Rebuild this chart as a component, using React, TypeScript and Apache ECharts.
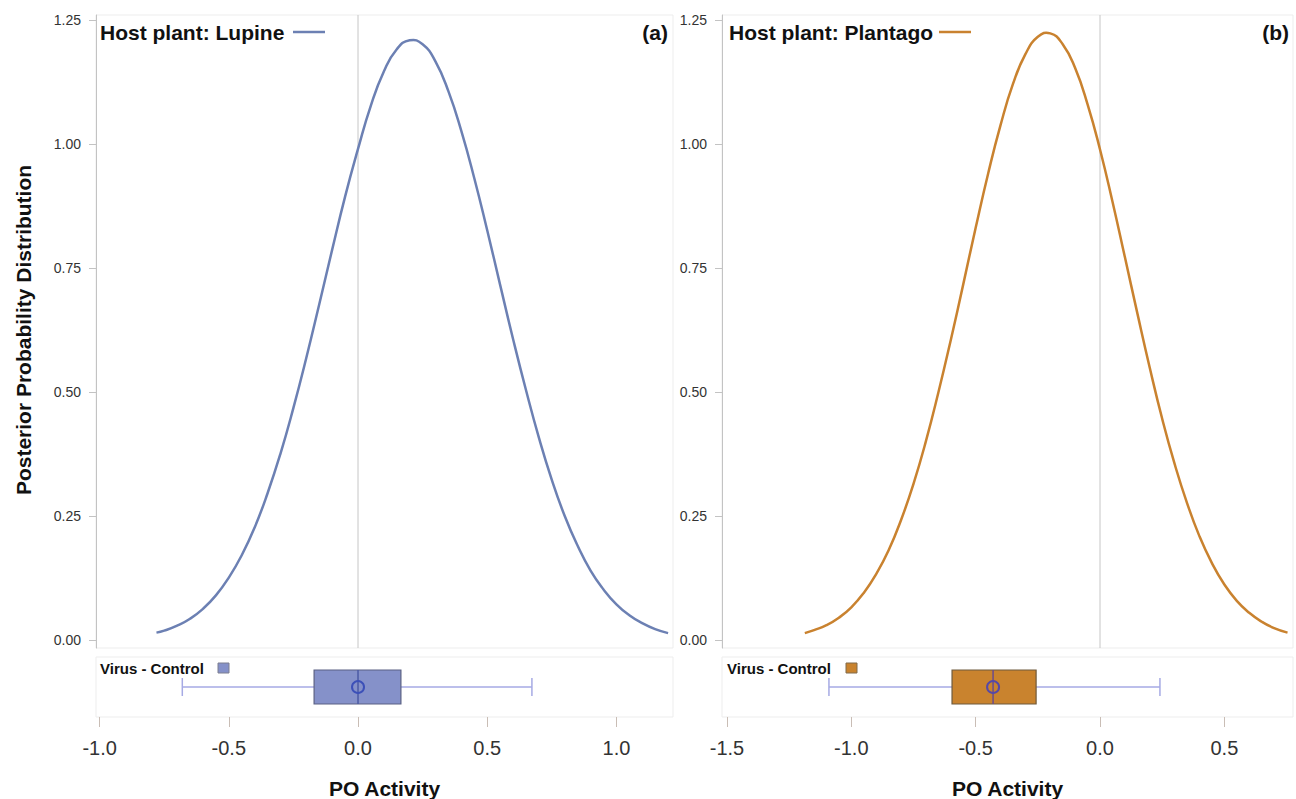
import React, { useEffect, useRef } from "react";
import * as echarts from "echarts";

// ---- data ----
const lupineX = [-0.78, -0.75, -0.7, -0.65, -0.6, -0.55, -0.5, -0.45, -0.4, -0.35, -0.3, -0.25, -0.2, -0.15, -0.1, -0.05, 0, 0.05, 0.1, 0.15, 0.2, 0.25, 0.3, 0.35, 0.4, 0.45, 0.5, 0.55, 0.6, 0.65, 0.7, 0.75, 0.8, 0.85, 0.9, 0.95, 1.0, 1.05, 1.1, 1.15, 1.2];
const lupineY = [0.015, 0.019, 0.029, 0.043, 0.063, 0.09, 0.126, 0.171, 0.227, 0.296, 0.376, 0.468, 0.569, 0.677, 0.787, 0.894, 0.99, 1.078, 1.146, 1.191, 1.209, 1.201, 1.166, 1.106, 1.026, 0.931, 0.826, 0.716, 0.607, 0.504, 0.408, 0.323, 0.25, 0.19, 0.14, 0.102, 0.072, 0.05, 0.034, 0.022, 0.014];

const plantagoX = [-1.187, -1.15, -1.1, -1.05, -1.0, -0.95, -0.9, -0.85, -0.8, -0.75, -0.7, -0.65, -0.6, -0.55, -0.5, -0.45, -0.4, -0.35, -0.3, -0.25, -0.2, -0.15, -0.1, -0.05, 0, 0.05, 0.1, 0.15, 0.2, 0.25, 0.3, 0.35, 0.4, 0.45, 0.5, 0.55, 0.6, 0.65, 0.7, 0.754];
const plantagoY = [0.014, 0.02, 0.03, 0.045, 0.066, 0.095, 0.133, 0.181, 0.242, 0.315, 0.401, 0.499, 0.605, 0.717, 0.831, 0.94, 1.038, 1.121, 1.181, 1.216, 1.223, 1.201, 1.153, 1.08, 0.989, 0.884, 0.772, 0.659, 0.549, 0.446, 0.355, 0.276, 0.209, 0.155, 0.112, 0.079, 0.055, 0.037, 0.024, 0.015];

// box stats: [low whisker, Q1, median, Q3, high whisker, mean]
const lupineBox = [-0.68, -0.17, 0.0, 0.166, 0.673, 0.0];
const plantagoBox = [-1.09, -0.595, -0.43, -0.257, 0.241, -0.43];

const lupineTicks = [-1.0, -0.5, 0.0, 0.5, 1.0];
const plantagoTicks = [-1.5, -1.0, -0.5, 0.0, 0.5];
const yTicks = [0, 0.25, 0.5, 0.75, 1.0, 1.25];
const refLineX = 0;

const lupineLabel = "Host plant: Lupine";
const plantagoLabel = "Host plant: Plantago";
const boxLabel = "Virus - Control";
const yTitle = "Posterior Probability Distribution";
const xTitle = "PO Activity";

const FONT = '"Liberation Sans", Arial, Helvetica, sans-serif';

const LUP = { line: "#6c80b3", fill: "#8591c9", border: "#5b6184", median: "#4b5aa5", mean: "#3c50b8", whisker: "#a6aae4" };
const PLA = { line: "#c9822f", fill: "#c9832e", border: "#6f5a3c", median: "#6b4c8c", mean: "#5548a8", whisker: "#a6aae4" };

function boxRender(colors: any) {
  return (params: any, api: any) => {
    const low = api.value(0), q1 = api.value(1), med = api.value(2), q3 = api.value(3), high = api.value(4), mean = api.value(5);
    const yc = api.coord([0, 0.5])[1];
    const xs = [low, q1, med, q3, high, mean].map((v) => api.coord([v, 0.5])[0]);
    const hb = api.size([0, 0.283])[1];
    const hc = api.size([0, 0.15])[1];
    const ws = { stroke: colors.whisker, lineWidth: 1.5 };
    return {
      type: "group",
      children: [
        { type: "line", shape: { x1: xs[0], y1: yc, x2: xs[1], y2: yc }, style: ws },
        { type: "line", shape: { x1: xs[3], y1: yc, x2: xs[4], y2: yc }, style: ws },
        { type: "line", shape: { x1: xs[0], y1: yc - hc, x2: xs[0], y2: yc + hc }, style: ws },
        { type: "line", shape: { x1: xs[4], y1: yc - hc, x2: xs[4], y2: yc + hc }, style: ws },
        { type: "rect", shape: { x: xs[1], y: yc - hb, width: xs[3] - xs[1], height: 2 * hb }, style: { fill: colors.fill, stroke: colors.border, lineWidth: 1.2 } },
        { type: "line", shape: { x1: xs[2], y1: yc - hb, x2: xs[2], y2: yc + hb }, style: { stroke: colors.median, lineWidth: 1.5 } },
        { type: "circle", shape: { cx: xs[5], cy: yc, r: 6 }, style: { fill: "none", stroke: colors.mean, lineWidth: 2 } },
      ],
    };
  };
}

// smooth density curve drawn through the axis scales (api.coord)
function curveRender(xs: number[], ys: number[], color: string) {
  return (params: any, api: any) => {
    if (params.dataIndex !== 0) return;
    const cs = params.coordSys;
    const x0 = api.coord([refLineX, 0])[0];
    const pts = xs.map((x, i) => api.coord([x, ys[i]]));
    return {
      type: "group",
      children: [
        { type: "line", shape: { x1: x0, y1: cs.y, x2: x0, y2: cs.y + cs.height }, style: { stroke: "#c6c6c6", lineWidth: 1 }, z2: 1 },
        { type: "polyline", shape: { points: pts, smooth: 0.5 }, style: { stroke: color, lineWidth: 2.5, fill: "none" }, z2: 5 },
      ],
    };
  };
}

export default function App() {
  const ref = useRef<HTMLDivElement>(null);
  useEffect(() => {
    if (!ref.current) return;
    const chart = echarts.init(ref.current, undefined, { renderer: "svg" });

    const gridBorder = { show: true, borderColor: "#ededed", borderWidth: 1, backgroundColor: "transparent" };
    const L = { x0: 96, x1: 673, min: -1.014, max: 1.219 };
    const R = { x0: 722, x1: 1293, min: -1.52, max: 0.776 };
    const dTop = 15, dBot = 648, bTop = 657, bBot = 717;

    const yAxisDensity = (gi: number) => ({
      type: "value",
      gridIndex: gi,
      min: -0.016,
      max: 1.26,
      axisLine: { show: true, onZero: false, lineStyle: { color: "#c3c3c3", width: 1 } },
      axisTick: { show: true, length: 7, lineStyle: { color: "#c3c3c3" }, customValues: yTicks },
      axisLabel: { show: true, margin: 15, fontSize: 14, color: "#333", fontFamily: FONT, customValues: yTicks, formatter: (v: number) => v.toFixed(2) },
      splitLine: { show: false },
    });
    const xAxisBox = (gi: number, P: any, ticks: number[]) => ({
      type: "value",
      gridIndex: gi,
      min: P.min,
      max: P.max,
      axisLine: { show: false, onZero: false },
      axisTick: { show: true, length: 10, lineStyle: { color: "#c9bdb5" }, customValues: ticks },
      axisLabel: { show: true, margin: 21, fontSize: 20, color: "#333", fontFamily: FONT, customValues: ticks, formatter: (v: number) => v.toFixed(1) },
      splitLine: { show: false },
    });

    const curveSeries = (name: string, xs: number[], ys: number[], gi: number, color: string) => ({
      type: "custom",
      name,
      xAxisIndex: gi,
      yAxisIndex: gi,
      data: xs.map((x, i) => [x, ys[i]]),
      renderItem: curveRender(xs, ys, color),
      silent: true,
      z: 3,
    });

    const hidden = (gi: number, P: any) => ({ type: "value", gridIndex: gi, min: P.min, max: P.max, show: false, axisLine: { onZero: false } });

    const option: any = {
      animation: false,
      backgroundColor: "#ffffff",
      textStyle: { fontFamily: FONT },
      grid: [
        { left: L.x0, top: dTop, width: L.x1 - L.x0, height: dBot - dTop, ...gridBorder },
        { left: L.x0, top: bTop, width: L.x1 - L.x0, height: bBot - bTop, ...gridBorder },
        { left: R.x0, top: dTop, width: R.x1 - R.x0, height: dBot - dTop, ...gridBorder },
        { left: R.x0, top: bTop, width: R.x1 - R.x0, height: bBot - bTop, ...gridBorder },
      ],
      xAxis: [hidden(0, L), xAxisBox(1, L, lupineTicks), hidden(2, R), xAxisBox(3, R, plantagoTicks)],
      yAxis: [
        yAxisDensity(0),
        { type: "value", gridIndex: 1, min: 0, max: 1, show: false },
        yAxisDensity(2),
        { type: "value", gridIndex: 3, min: 0, max: 1, show: false },
      ],
      series: [
        curveSeries(lupineLabel, lupineX, lupineY, 0, LUP.line),
        {
          type: "custom",
          name: boxLabel + " (a)",
          xAxisIndex: 1,
          yAxisIndex: 1,
          renderItem: boxRender(LUP),
          data: [lupineBox],
          dimensions: ["low", "q1", "median", "q3", "high", "mean"],
          encode: { x: [0, 1, 2, 3, 4, 5] },
          silent: true,
        },
        curveSeries(plantagoLabel, plantagoX, plantagoY, 2, PLA.line),
        {
          type: "custom",
          name: boxLabel + " (b)",
          xAxisIndex: 3,
          yAxisIndex: 3,
          renderItem: boxRender(PLA),
          data: [plantagoBox],
          dimensions: ["low", "q1", "median", "q3", "high", "mean"],
          encode: { x: [0, 1, 2, 3, 4, 5] },
          silent: true,
        },
      ],
      graphic: [
        { type: "text", x: 23, y: 330, rotation: Math.PI / 2, style: { text: yTitle, font: `bold 21px ${FONT}`, fill: "#111", textAlign: "center", textVerticalAlign: "middle" } },
        { type: "text", x: (L.x0 + L.x1) / 2, y: 788, style: { text: xTitle, font: `bold 21px ${FONT}`, fill: "#111", textAlign: "center", textVerticalAlign: "middle" } },
        { type: "text", x: (R.x0 + R.x1) / 2, y: 788, style: { text: xTitle, font: `bold 21px ${FONT}`, fill: "#111", textAlign: "center", textVerticalAlign: "middle" } },
        // panel legends
        { type: "text", x: 100, y: 32, style: { text: lupineLabel, font: `bold 21px ${FONT}`, fill: "#111", textAlign: "left", textVerticalAlign: "middle" } },
        { type: "line", shape: { x1: 293, y1: 32, x2: 325, y2: 32 }, style: { stroke: LUP.line, lineWidth: 2.5 } },
        { type: "text", x: 668, y: 32, style: { text: "(a)", font: `bold 21px ${FONT}`, fill: "#111", textAlign: "right", textVerticalAlign: "middle" } },
        { type: "text", x: 729, y: 32, style: { text: plantagoLabel, font: `bold 21px ${FONT}`, fill: "#111", textAlign: "left", textVerticalAlign: "middle" } },
        { type: "line", shape: { x1: 939, y1: 32, x2: 971, y2: 32 }, style: { stroke: PLA.line, lineWidth: 2.5 } },
        { type: "text", x: 1289, y: 32, style: { text: "(b)", font: `bold 21px ${FONT}`, fill: "#111", textAlign: "right", textVerticalAlign: "middle" } },
        // box legends
        { type: "text", x: 100, y: 668, style: { text: boxLabel, font: `bold 15px ${FONT}`, fill: "#111", textAlign: "left", textVerticalAlign: "middle" } },
        { type: "rect", shape: { x: 218, y: 663, width: 11, height: 10 }, style: { fill: LUP.fill, stroke: "#7d7f90", lineWidth: 1 } },
        { type: "text", x: 727, y: 668, style: { text: boxLabel, font: `bold 15px ${FONT}`, fill: "#111", textAlign: "left", textVerticalAlign: "middle" } },
        { type: "rect", shape: { x: 846, y: 663, width: 11, height: 10 }, style: { fill: PLA.fill, stroke: "#806a4a", lineWidth: 1 } },
      ],
    };
    chart.setOption(option);
    return () => chart.dispose();
  }, []);
  return <div ref={ref} style={{ position: "absolute", left: 0, top: 0, width: 1296, height: 799 }} />;
}
